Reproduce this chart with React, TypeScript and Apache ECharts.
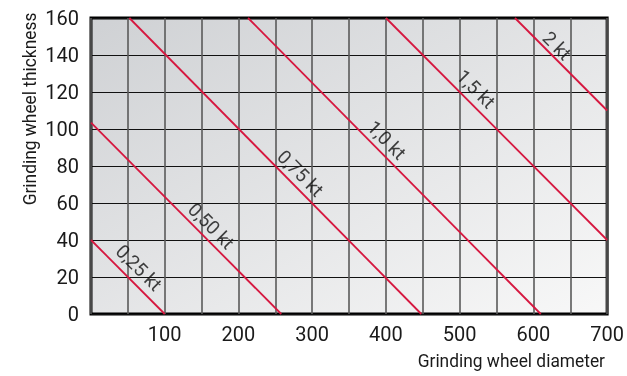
import React, { useEffect, useRef } from "react";
import * as echarts from "echarts";

// Line endpoints [diameter, thickness]
const line025 = [[0, 40], [100, 0]];
const line050 = [[0, 103.5], [258, 0]];
const line075 = [[52, 160], [448, 0]];
const line100 = [[213, 160], [610, 0]];
const line150 = [[400, 160], [700, 40]];
const line200 = [[575, 160], [700, 110]];

const lineNames = ["0,25 kt", "0,50 kt", "0,75 kt", "1,0 kt", "1,5 kt", "2 kt"];
// label centres [diameter, thickness]
const labelPositions = [
  [65, 25],
  [163, 47.6],
  [284, 76],
  [401, 94],
  [522, 121.6],
  [632, 145],
];

const xMin = 0, xMax = 700, xStep = 50;
const yMin = 0, yMax = 160, yStep = 20;
const xTitle = "Grinding wheel diameter";
const yTitle = "Grinding wheel thickness";

const FONT = "Roboto, 'Liberation Sans', sans-serif";
const RED = "#d6173f";

export default function App() {
  const ref = useRef<HTMLDivElement>(null);
  useEffect(() => {
    if (!ref.current) return;
    const chart = echarts.init(ref.current, null, { renderer: "svg" });
    const lines = [line025, line050, line075, line100, line150, line200];
    const series: any[] = lines.map((d, i) => ({
      type: "line",
      name: lineNames[i],
      data: d,
      symbol: "none",
      lineStyle: { color: RED, width: 1.8 },
      clip: true,
      z: 3,
    }));
    series.push({
      type: "scatter",
      symbolSize: 0,
      data: labelPositions.map((p, i) => ({ value: p, name: lineNames[i] })),
      label: {
        show: true,
        position: "inside",
        formatter: (p: any) => p.name,
        rotate: -45,
        fontFamily: FONT,
        fontSize: 19,
        color: "#111",
        align: "center",
        verticalAlign: "middle",
      },
      z: 4,
    });
    chart.setOption({
      animation: false,
      grid: {
        left: 91,
        right: 15,
        top: 18,
        bottom: 62,
        show: true,
        borderColor: "#000",
        borderWidth: 3,
        backgroundColor: new echarts.graphic.LinearGradient(0, 0, 1, 1, [
          { offset: 0, color: "#cfd1d4" },
          { offset: 1, color: "#f8f8f8" },
        ]),
        z: 0,
      },
      xAxis: {
        type: "value",
        min: xMin,
        max: xMax,
        interval: xStep,
        axisLine: { show: false },
        axisTick: { show: false },
        axisLabel: {
          fontFamily: FONT,
          fontSize: 20,
          color: "#1a1a1a",
          margin: 10,
          formatter: (v: number) => (v > 0 && v % 100 === 0 ? String(v) : ""),
        },
        splitLine: { show: true, lineStyle: { color: "#5a5a5a", width: 1.6 } },
      },
      yAxis: {
        type: "value",
        min: yMin,
        max: yMax,
        interval: yStep,
        axisLine: { show: false },
        axisTick: { show: false },
        axisLabel: {
          fontFamily: FONT,
          fontSize: 20,
          color: "#1a1a1a",
          margin: 12,
        },
        splitLine: { show: true, lineStyle: { color: "#111", width: 1.2 } },
      },
      graphic: [
        {
          type: "text",
          x: 30,
          y: 109,
          rotation: Math.PI / 2,
          scaleX: 0.965,
          style: {
            text: yTitle,
            fontFamily: FONT,
            fontSize: 18,
            fill: "#1a1a1a",
            align: "center",
            verticalAlign: "middle",
          },
        },
        {
          type: "text",
          x: 605,
          y: 361,
          scaleX: 0.965,
          style: {
            text: xTitle,
            fontFamily: FONT,
            fontSize: 18,
            fill: "#1a1a1a",
            align: "right",
            verticalAlign: "middle",
          },
        },
      ],
      series,
    });
    return () => chart.dispose();
  }, []);
  return (
    <div
      ref={ref}
      style={{ position: "fixed", left: 0, top: 0, width: 627, height: 376 }}
    />
  );
}
